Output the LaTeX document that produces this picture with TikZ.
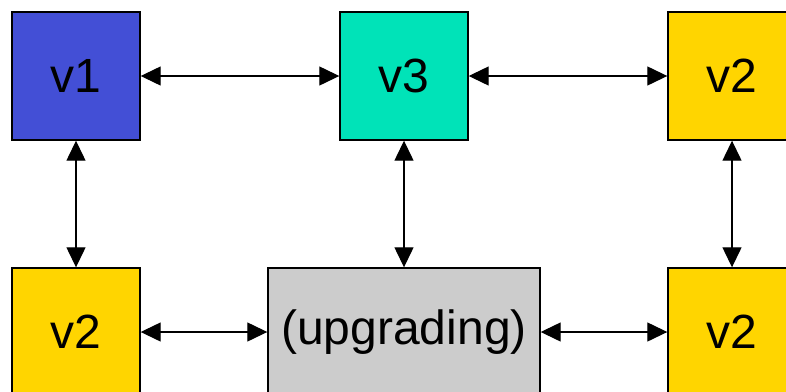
\documentclass[tikz,border=0pt]{standalone}
\usepackage{fontspec}
\setmainfont{Liberation Sans}
\usetikzlibrary{arrows.meta}
\definecolor{vblue}{RGB}{67,79,214}
\definecolor{vteal}{RGB}{0,227,184}
\definecolor{vyellow}{RGB}{255,213,0}
\definecolor{vgray}{RGB}{204,204,204}
\tikzset{
  vbox/.style={draw=black, line width=1.4pt, minimum width=128pt, minimum height=128pt,
    inner sep=0pt, font=\fontsize{48}{48}\selectfont},
  link/.style={line width=1.3pt, {Triangle[length=20pt,width=19pt]}-{Triangle[length=20pt,width=19pt]}}
}
\begin{document}
\begin{tikzpicture}[x=1pt,y=-1pt]
  \useasboundingbox (0,0) rectangle (786,391);
  \clip (0,0) rectangle (786,391);
  % top row
  \node[vbox, fill=vblue]   (v1)  at (76,76)  {v1};
  \node[vbox, fill=vteal]   (v3)  at (404,76) {v3};
  \node[vbox, fill=vyellow] (v2a) at (732,76) {v2};
  % bottom row
  \node[vbox, fill=vyellow] (v2b) at (76,332)  {v2};
  \node[vbox, fill=vgray, minimum width=272pt] (up) at (404,332) {(upgrading)};
  \node[vbox, fill=vyellow] (v2c) at (732,332) {v2};
  % links
  \draw[link] (v1.east) -- (v3.west);
  \draw[link] (v3.east) -- (v2a.west);
  \draw[link] (v2b.east) -- (up.west);
  \draw[link] (up.east) -- (v2c.west);
  \draw[link] (v1.south) -- (v2b.north);
  \draw[link] (v3.south) -- (up.north);
  \draw[link] (v2a.south) -- (v2c.north);
\end{tikzpicture}
\end{document}
